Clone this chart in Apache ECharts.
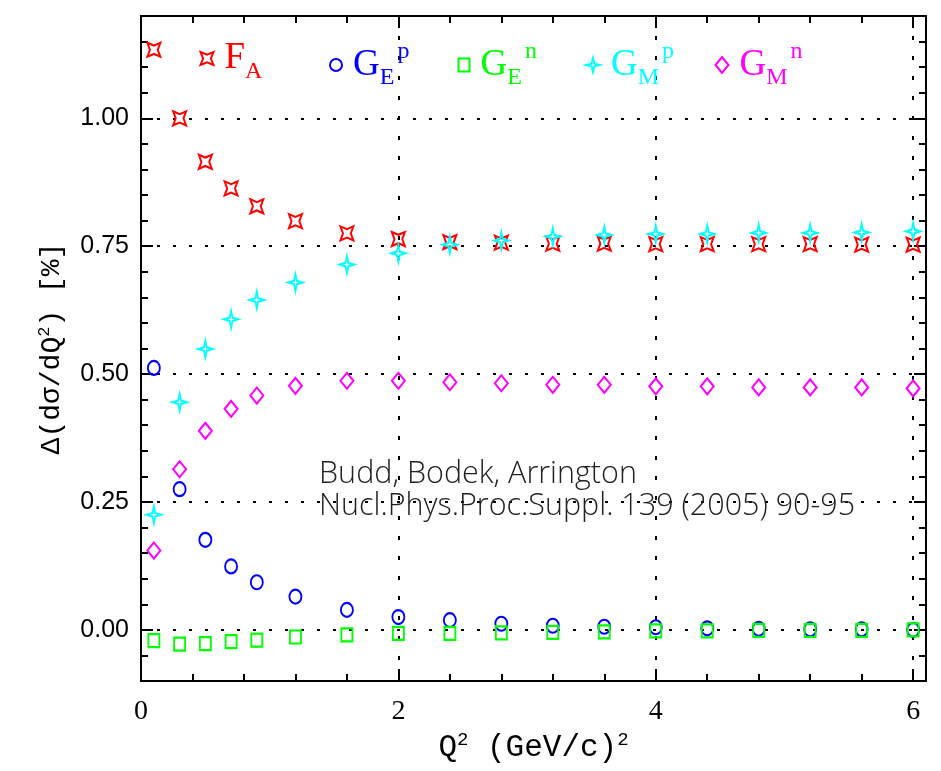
<!DOCTYPE html>
<html><head><meta charset="utf-8">
<script src="https://cdn.jsdelivr.net/npm/echarts@6/dist/echarts.min.js"></script>
<style>html,body{margin:0;padding:0;background:#fff}#c{width:941px;height:771px}</style>
</head><body><div id="c"></div>
<script>
// ---- data ----
const q2 = [0.1, 0.3, 0.5, 0.7, 0.9, 1.2, 1.6, 2.0, 2.4, 2.8, 3.2, 3.6, 4.0, 4.4, 4.8, 5.2, 5.6, 6.0];
const FA  = [1.134, 1.000, 0.915, 0.863, 0.828, 0.799, 0.775, 0.764, 0.758, 0.757, 0.755, 0.755, 0.754, 0.754, 0.754, 0.754, 0.753, 0.753];
const GEp = [0.512, 0.275, 0.176, 0.124, 0.093, 0.065, 0.039, 0.025, 0.019, 0.012, 0.008, 0.006, 0.005, 0.003, 0.002, 0.001, 0.001, 0.000];
const GEn = [-0.021, -0.028, -0.027, -0.023, -0.020, -0.014, -0.010, -0.007, -0.007, -0.006, -0.005, -0.004, -0.002, -0.002, -0.001, -0.001, -0.001, 0.000];
const GMp = [0.225, 0.445, 0.549, 0.607, 0.645, 0.679, 0.714, 0.736, 0.753, 0.761, 0.769, 0.772, 0.774, 0.774, 0.776, 0.776, 0.777, 0.779];
const GMn = [0.155, 0.314, 0.389, 0.432, 0.458, 0.477, 0.487, 0.487, 0.484, 0.482, 0.479, 0.479, 0.476, 0.476, 0.474, 0.474, 0.474, 0.472];
const seriesNames = ['FA', 'GEp', 'GEn', 'GMp', 'GMn'];
const legendLabels = ['{m|F}{b|A}', '{m|G}{b|E}{t|p}', '{m|G}{b|E}{t|n}', '{m|G}{b|M}{t|p}', '{m|G}{b|M}{t|n}'];
const xTickLabels = [0, 2, 4, 6];
const yTickLabels = [0, 0.25, 0.5, 0.75, 1.0];
const noteText = 'Budd, Bodek, Arrington\nNucl.Phys.Proc.Suppl. 139 (2005) 90-95';
const xTitle = 'Q{s|2} (GeV/c){s|2}';
const yTitle = '\u0394(d\u03c3/dQ{s|2}) [%]';

// ---- layout / styles ----
const X_MIN = 0, X_MAX = 6.1, Y_MIN = -0.1, Y_MAX = 1.2;
const G_LEFT = 141, G_RIGHT = 15, G_TOP = 16, G_BOTTOM = 90, H = 771;
const pxPerY = (H - G_TOP - G_BOTTOM) / (Y_MAX - Y_MIN);
const colors = ['#ff0000', '#0000ff', '#00ff00', '#00ffff', '#ff00ff'];
const symbols = [
  'path://M0 0 L10 4 L20 0 L16 10 L20 20 L10 16 L0 20 L4 10 Z',
  'circle',
  'rect',
  'path://M10 0 L12 8 L20 10 L12 12 L10 20 L8 12 L0 10 L8 8 Z',
  'diamond'
];
const sizes = [[13, 14], [12, 14], [11, 13], [14, 17], [13, 16]];
const legendCenters = [206, 335, 463, 592, 721];
const pair = ys => q2.map((x, i) => [x, ys[i]]);
const dataSets = [FA, GEp, GEn, GMp, GMn];
const MINOR_LEN = 7, MAJOR_LEN = 12;
const dotH = { show: true, lineStyle: { type: [3, 13], width: 2, color: '#000' } };
const dotV = { show: true, lineStyle: { type: [4, 16], width: 2, color: '#000' } };

function xAx(pos, interval, len) {
  return {
    type: 'value', gridIndex: 0, position: pos, min: X_MIN, max: X_MAX, interval: interval,
    axisLine: { show: true, onZero: false, lineStyle: { color: '#000', width: 2 } },
    axisTick: { show: true, inside: true, length: len, lineStyle: { color: '#000', width: 2 } },
    axisLabel: { show: false }, splitLine: { show: false }
  };
}
function yMinor(pos) {
  return {
    type: 'value', gridIndex: 0, position: pos, min: Y_MIN, max: Y_MAX, interval: 0.05,
    axisLine: { show: true, onZero: false, lineStyle: { color: '#000', width: 2 } },
    axisTick: { show: true, inside: true, length: MINOR_LEN, lineStyle: { color: '#000', width: 2 } },
    axisLabel: { show: false }, splitLine: { show: false }
  };
}
// major y ticks and horizontal grid lines: helper grid spanning exactly the labelled range [0, 1]
function yMajor(pos) {
  return {
    type: 'value', gridIndex: 1, position: pos, min: yTickLabels[0], max: yTickLabels[yTickLabels.length - 1], interval: 0.25,
    axisLine: { show: false, onZero: false },
    axisTick: { show: true, inside: true, length: MAJOR_LEN, lineStyle: { color: '#000', width: 2 } },
    axisLabel: { show: false }, splitLine: { show: false }
  };
}

const xAxes = [xAx('bottom', 2, MAJOR_LEN), xAx('bottom', 0.4, MINOR_LEN), xAx('top', 2, MAJOR_LEN), xAx('top', 0.4, MINOR_LEN),
  { type: 'value', gridIndex: 1, min: X_MIN, max: X_MAX, show: false }];
xAxes[0].splitLine = dotV;
xAxes[0].axisLabel = {
  show: true, margin: 17, fontFamily: 'Liberation Serif', fontSize: 28, color: '#000',
  formatter: v => xTickLabels.some(t => Math.abs(t - v) < 1e-9) ? String(v) : ''
};
xAxes[0].name = xTitle;
xAxes[0].nameLocation = 'middle';
xAxes[0].nameGap = 44;
xAxes[0].nameTextStyle = {
  fontFamily: 'Liberation Mono', fontSize: 31, color: '#000', lineHeight: 34,
  rich: { s: { fontFamily: 'Liberation Mono', fontSize: 19, color: '#000', lineHeight: 20, verticalAlign: 'top' } }
};

const yAxes = [yMinor('left'), yMinor('right'), yMajor('left'), yMajor('right')];
yAxes[2].splitLine = dotH;
yAxes[0].axisLabel = {
  show: true, margin: 12, fontFamily: 'Liberation Sans', fontSize: 25, color: '#000',
  formatter: v => yTickLabels.some(t => Math.abs(t - v) < 1e-9) ? v.toFixed(2) : ''
};
yAxes[0].name = yTitle;
yAxes[0].nameLocation = 'middle';
yAxes[0].nameRotate = 90;
yAxes[0].nameGap = 73;
yAxes[0].nameTextStyle = {
  fontFamily: 'Liberation Mono', fontSize: 28, color: '#000', lineHeight: 32,
  rich: { s: { fontFamily: 'Liberation Mono', fontSize: 17, color: '#000', lineHeight: 18, verticalAlign: 'top' } }
};

const series = seriesNames.map((n, i) => ({
  type: 'scatter', name: n, xAxisIndex: 0, yAxisIndex: 0,
  data: pair(dataSets[i]),
  symbol: symbols[i], symbolSize: sizes[i],
  itemStyle: { color: 'transparent', borderColor: colors[i], borderWidth: 2, opacity: 1 },
  z: 3
}));

const serif = '"Liberation Serif", serif';
const legends = seriesNames.map((n, i) => ({
  data: [{ name: n, icon: symbols[i] }],
  left: legendCenters[i] - sizes[i][0] / 2, top: 40, padding: 0,
  itemWidth: sizes[i][0], itemHeight: sizes[i][1],
  itemStyle: { color: 'transparent', borderColor: colors[i], borderWidth: 2 },
  selectedMode: false,
  formatter: () => legendLabels[i],
  textStyle: {
    color: colors[i], fontFamily: serif,
    rich: {
      m: { color: colors[i], fontFamily: serif, fontSize: 37, lineHeight: 50, verticalAlign: 'middle', padding: [0, 0, 0, 6] },
      b: { color: colors[i], fontFamily: serif, fontSize: 24, lineHeight: 21, verticalAlign: 'bottom' },
      t: { color: colors[i], fontFamily: serif, fontSize: 24, lineHeight: 27, verticalAlign: 'top', padding: [0, 0, 0, 3] }
    }
  }
}));

const chart = echarts.init(document.getElementById('c'));
chart.setOption({
  animation: false,
  grid: [
    { left: G_LEFT, right: G_RIGHT, top: G_TOP, bottom: G_BOTTOM },
    { left: G_LEFT, right: G_RIGHT,
      top: G_TOP + (Y_MAX - yTickLabels[yTickLabels.length - 1]) * pxPerY,
      bottom: G_BOTTOM + (yTickLabels[0] - Y_MIN) * pxPerY }
  ],
  title: {
    text: noteText, left: 319, top: 458, padding: 0,
    textStyle: { fontFamily: '"Open Sans"', fontWeight: 300, fontSize: 30.5, lineHeight: 32, color: '#222' }
  },
  legend: legends,
  xAxis: xAxes,
  yAxis: yAxes,
  series: series
});
</script>
</body></html>
